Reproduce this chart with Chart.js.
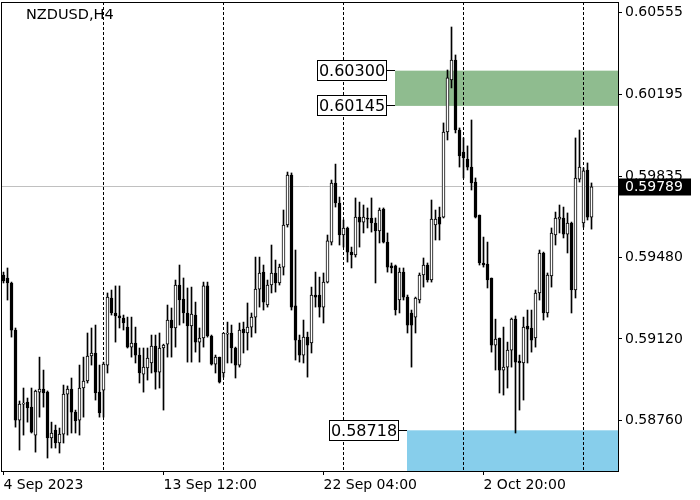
<!DOCTYPE html>
<html>
<head>
<meta charset="utf-8">
<script src="https://cdn.jsdelivr.net/npm/chart.js@4.4.0/dist/chart.umd.min.js"></script>
<style>
  html, body { margin: 0; padding: 0; background: #fff; }
  #wrap { width: 700px; height: 500px; }
</style>
</head>
<body>
<div id="wrap"><canvas id="chart" width="700" height="500"></canvas></div>
<script>
const symbolTitle = 'NZDUSD,H4';

// H4 candles, oldest first
const opens = [
  0.59401, 0.59388, 0.59366, 0.59159, 0.58763, 0.58833, 0.58842, 0.58820, 0.58697, 0.58886,
  0.58899, 0.58886, 0.58684, 0.58719, 0.58662, 0.58701, 0.58877, 0.58899, 0.58798, 0.58763,
  0.58904, 0.58935, 0.59045, 0.59058, 0.58886, 0.58895, 0.59005, 0.59300, 0.59234, 0.59221,
  0.59212, 0.59172, 0.59084, 0.59102, 0.59049, 0.58965, 0.58992, 0.59014, 0.59089, 0.58974,
  0.59080, 0.59097, 0.59203, 0.59168, 0.59357, 0.59295, 0.59234, 0.59177, 0.59225, 0.59106,
  0.59124, 0.59353, 0.59133, 0.59009, 0.59040, 0.58970, 0.59141, 0.59146, 0.59080, 0.59005,
  0.59163, 0.59146, 0.59172, 0.59216, 0.59339, 0.59414, 0.59269, 0.59357, 0.59410, 0.59366,
  0.59436, 0.59621, 0.59841, 0.59265, 0.59115, 0.59049, 0.59128, 0.59102, 0.59313, 0.59313,
  0.59260, 0.59370, 0.59546, 0.59806, 0.59718, 0.59577, 0.59608, 0.59502, 0.59489, 0.59656,
  0.59634, 0.59652, 0.59652, 0.59630, 0.59595, 0.59691, 0.59546, 0.59441, 0.59441, 0.59291,
  0.59414, 0.59304, 0.59234, 0.59216, 0.59291, 0.59401, 0.59445, 0.59379, 0.59621, 0.59656,
  0.59656, 0.60030, 0.60259, 0.60347, 0.60039, 0.59942, 0.59911, 0.59876, 0.59810, 0.59665,
  0.59454, 0.59449, 0.59388, 0.59093, 0.59124, 0.58983, 0.58996, 0.59071, 0.59207, 0.59023,
  0.59014, 0.59177, 0.59168, 0.59124, 0.59322, 0.59498, 0.59234, 0.59397, 0.59577, 0.59647,
  0.59652, 0.59581, 0.59630, 0.59335, 0.59823, 0.59630, 0.59863, 0.59656
];
const highs = [
  0.59414, 0.59432, 0.59370, 0.59168, 0.58847, 0.58904, 0.58860, 0.58904, 0.58895, 0.59040,
  0.58983, 0.58891, 0.58754, 0.58741, 0.58728, 0.58917, 0.58913, 0.58948, 0.58807, 0.59005,
  0.59040, 0.59146, 0.59168, 0.59181, 0.59005, 0.59018, 0.59322, 0.59335, 0.59353, 0.59353,
  0.59225, 0.59216, 0.59216, 0.59172, 0.59080, 0.59080, 0.59080, 0.59137, 0.59137, 0.59146,
  0.59097, 0.59269, 0.59256, 0.59379, 0.59445, 0.59388, 0.59344, 0.59348, 0.59282, 0.59168,
  0.59370, 0.59370, 0.59137, 0.59049, 0.59040, 0.59146, 0.59194, 0.59181, 0.59084, 0.59190,
  0.59194, 0.59278, 0.59234, 0.59480, 0.59480, 0.59445, 0.59379, 0.59533, 0.59467, 0.59449,
  0.59687, 0.59854, 0.59850, 0.59511, 0.59137, 0.59203, 0.59150, 0.59348, 0.59414, 0.59392,
  0.59410, 0.59577, 0.59819, 0.59889, 0.59744, 0.59643, 0.59612, 0.59524, 0.59740, 0.59722,
  0.59709, 0.59696, 0.59740, 0.59652, 0.59696, 0.59696, 0.59586, 0.59454, 0.59445, 0.59432,
  0.59432, 0.59313, 0.59247, 0.59304, 0.59410, 0.59476, 0.59454, 0.59731, 0.59687, 0.59700,
  0.60070, 0.60303, 0.60492, 0.60369, 0.60048, 0.60004, 0.59969, 0.60083, 0.59828, 0.59665,
  0.59568, 0.59546, 0.59388, 0.59207, 0.59124, 0.59172, 0.59106, 0.59212, 0.59221, 0.59049,
  0.59216, 0.59247, 0.59247, 0.59335, 0.59511, 0.59502, 0.59410, 0.59608, 0.59678, 0.59709,
  0.59700, 0.59674, 0.59634, 0.60004, 0.60039, 0.59872, 0.59894, 0.59806
];
const lows = [
  0.59366, 0.59291, 0.59128, 0.58732, 0.58631, 0.58697, 0.58754, 0.58706, 0.58622, 0.58776,
  0.58820, 0.58596, 0.58640, 0.58640, 0.58618, 0.58662, 0.58697, 0.58706, 0.58706, 0.58697,
  0.58776, 0.58926, 0.59005, 0.58851, 0.58776, 0.58776, 0.58970, 0.59225, 0.59106, 0.59168,
  0.59159, 0.59080, 0.59040, 0.59014, 0.58926, 0.58886, 0.58939, 0.58970, 0.58899, 0.58904,
  0.58807, 0.59040, 0.59040, 0.59084, 0.59181, 0.59190, 0.59018, 0.59018, 0.59062, 0.59018,
  0.59084, 0.59128, 0.59005, 0.58970, 0.58926, 0.58952, 0.59014, 0.59014, 0.58948, 0.58996,
  0.59058, 0.59071, 0.59128, 0.59146, 0.59260, 0.59247, 0.59260, 0.59322, 0.59326, 0.59357,
  0.59401, 0.59612, 0.59247, 0.59027, 0.59018, 0.59014, 0.58952, 0.59058, 0.59260, 0.59216,
  0.59190, 0.59366, 0.59533, 0.59700, 0.59533, 0.59524, 0.59458, 0.59432, 0.59480, 0.59524,
  0.59586, 0.59608, 0.59590, 0.59366, 0.59542, 0.59542, 0.59414, 0.59410, 0.59225, 0.59234,
  0.59291, 0.59146, 0.58996, 0.59146, 0.59278, 0.59348, 0.59370, 0.59370, 0.59555, 0.59555,
  0.59652, 0.59995, 0.60224, 0.60026, 0.59876, 0.59828, 0.59863, 0.59775, 0.59652, 0.59445,
  0.59436, 0.59344, 0.59062, 0.58983, 0.58882, 0.58873, 0.58904, 0.58996, 0.58706, 0.58807,
  0.58851, 0.59014, 0.59062, 0.59084, 0.59291, 0.59203, 0.59216, 0.59348, 0.59533, 0.59586,
  0.59564, 0.59498, 0.59234, 0.59300, 0.59810, 0.59612, 0.59643, 0.59603
];
const closes = [
  0.59375, 0.59366, 0.59159, 0.58763, 0.58833, 0.58838, 0.58816, 0.58710, 0.58891, 0.58899,
  0.58882, 0.58684, 0.58706, 0.58662, 0.58701, 0.58877, 0.58899, 0.58798, 0.58759, 0.58904,
  0.58935, 0.59045, 0.59058, 0.58882, 0.58794, 0.59009, 0.59304, 0.59234, 0.59221, 0.59212,
  0.59190, 0.59084, 0.59102, 0.59049, 0.58970, 0.58996, 0.59036, 0.59089, 0.58974, 0.59080,
  0.59093, 0.59203, 0.59168, 0.59357, 0.59291, 0.59234, 0.59177, 0.59229, 0.59106, 0.59124,
  0.59353, 0.59133, 0.59009, 0.59040, 0.58930, 0.59146, 0.59146, 0.59080, 0.59005, 0.59159,
  0.59146, 0.59172, 0.59216, 0.59339, 0.59410, 0.59282, 0.59357, 0.59410, 0.59366, 0.59436,
  0.59621, 0.59841, 0.59260, 0.59115, 0.59049, 0.59128, 0.59093, 0.59313, 0.59304, 0.59260,
  0.59370, 0.59551, 0.59806, 0.59718, 0.59577, 0.59608, 0.59502, 0.59489, 0.59656, 0.59634,
  0.59656, 0.59647, 0.59630, 0.59595, 0.59687, 0.59546, 0.59436, 0.59432, 0.59247, 0.59414,
  0.59304, 0.59181, 0.59181, 0.59300, 0.59401, 0.59445, 0.59379, 0.59647, 0.59647, 0.59625,
  0.60030, 0.60268, 0.60347, 0.60039, 0.59925, 0.59916, 0.59876, 0.59806, 0.59656, 0.59454,
  0.59445, 0.59379, 0.59093, 0.59119, 0.58983, 0.58996, 0.59071, 0.59207, 0.59018, 0.59014,
  0.59172, 0.59163, 0.59115, 0.59322, 0.59498, 0.59234, 0.59401, 0.59586, 0.59652, 0.59656,
  0.59581, 0.59630, 0.59335, 0.59828, 0.59876, 0.59859, 0.59656, 0.59789
];

const timeTickBars = [0, 40, 80, 120];
const timeTickLabels = ['4 Sep 2023', '13 Sep 12:00', '22 Sep 04:00', '2 Oct 20:00'];
const weekStartBars = [25, 55, 85, 115, 145];
const priceTicks = [0.60555, 0.60195, 0.59835, 0.59480, 0.59120, 0.58760];
const priceRange = [0.58539, 0.60602];
const barRange = [-0.625, 153.625];

const resistanceZone = [0.60145, 0.60300];
const resistanceStartBar = 98;
const supportZone = [0.58500, 0.58718];
const supportStartBar = 101;
const bidPrice = 0.59789;

const FONT = 'DejaVu Sans';
Chart.defaults.font.family = FONT;
Chart.defaults.color = '#000';

const isBull = i => closes[i] >= opens[i];

const wickData = lows.map((l, i) => ({ x: i, y: [l, highs[i]] }));
const bodyData = opens.map((o, i) => ({ x: i, y: [o, closes[i]] }));

const overlay = {
  id: 'overlay',
  beforeDatasetsDraw(chart) {
    const { ctx, chartArea: a, scales: { x, y } } = chart;
    ctx.save();
    ctx.beginPath();
    ctx.rect(a.left, a.top, a.right - a.left, a.bottom - a.top);
    ctx.clip();

    const zone = (range, startBar, color) => {
      const x0 = Math.floor(x.getPixelForValue(startBar));
      const y0 = y.getPixelForValue(range[1]);
      const y1 = y.getPixelForValue(range[0]);
      ctx.fillStyle = color;
      ctx.fillRect(x0, y0, a.right - x0, y1 - y0);
    };
    zone(resistanceZone, resistanceStartBar, '#8fbc8f');
    zone(supportZone, supportStartBar, '#87ceeb');

    // bid line
    const by = Math.floor(y.getPixelForValue(bidPrice)) + 0.5;
    ctx.strokeStyle = '#c0c0c0';
    ctx.lineWidth = 1;
    ctx.beginPath();
    ctx.moveTo(a.left, by);
    ctx.lineTo(a.right, by);
    ctx.stroke();

    // week separators
    ctx.strokeStyle = '#000';
    ctx.setLineDash([3, 2]);
    weekStartBars.forEach(b => {
      const px = Math.floor(x.getPixelForValue(b)) + 0.5;
      ctx.beginPath();
      ctx.moveTo(px, a.top);
      ctx.lineTo(px, a.bottom);
      ctx.stroke();
    });
    ctx.restore();
  },
  afterDraw(chart) {
    const { ctx, chartArea: a, scales: { x, y } } = chart;
    ctx.save();

    // frame
    ctx.strokeStyle = '#000';
    ctx.lineWidth = 1;
    ctx.strokeRect(a.left + 0.5, a.top + 0.5, a.right - a.left, a.bottom - a.top);

    // title
    ctx.fillStyle = '#000';
    ctx.font = '14.5px "' + FONT + '"';
    ctx.textBaseline = 'top';
    ctx.textAlign = 'left';
    ctx.fillText(symbolTitle, 26, 8);

    // zone price labels
    const levelLabel = (price, startBar) => {
      const ly = Math.floor(y.getPixelForValue(price)) + 0.5;
      const zx = Math.floor(x.getPixelForValue(startBar));
      const right = zx - 8.5;
      const left = right - 69;
      ctx.fillStyle = '#fff';
      ctx.fillRect(left, ly - 10, 69, 20);
      ctx.strokeStyle = '#000';
      ctx.strokeRect(left, ly - 10, 69, 20);
      ctx.beginPath();
      ctx.moveTo(right, ly);
      ctx.lineTo(zx, ly);
      ctx.stroke();
      ctx.fillStyle = '#000';
      ctx.font = '16px "' + FONT + '"';
      ctx.textAlign = 'center';
      ctx.textBaseline = 'middle';
      ctx.fillText(price.toFixed(5), left + 34.5, ly + 1);
    };
    levelLabel(resistanceZone[1], resistanceStartBar);
    levelLabel(resistanceZone[0], resistanceStartBar);
    levelLabel(supportZone[1], supportStartBar);

    // bid label on the price axis
    const by = Math.floor(y.getPixelForValue(bidPrice)) + 0.5;
    ctx.fillStyle = '#000';
    ctx.fillRect(a.right + 1, by - 8, 72, 17);
    ctx.fillStyle = '#fff';
    ctx.font = '14px "' + FONT + '"';
    ctx.textAlign = 'left';
    ctx.textBaseline = 'middle';
    ctx.fillText(bidPrice.toFixed(5), a.right + 7, by + 1);
    ctx.restore();
  }
};

new Chart(document.getElementById('chart'), {
  type: 'bar',
  data: {
    datasets: [
      {
        label: 'body',
        data: bodyData,
        order: 0,
        grouped: false,
        barThickness: 3,
        minBarLength: 1,
        borderWidth: 1,
        borderSkipped: false,
        borderColor: '#000',
        backgroundColor: c => (isBull(c.dataIndex) ? '#fff' : '#000')
      },
      {
        label: 'wick',
        data: wickData,
        order: 1,
        grouped: false,
        barThickness: 1,
        borderWidth: 0,
        backgroundColor: '#000'
      }
    ]
  },
  options: {
    responsive: false,
    animation: false,
    events: [],
    layout: { padding: { left: 1, top: 2, right: 0, bottom: 0 } },
    plugins: { legend: { display: false }, tooltip: { enabled: false } },
    scales: {
      x: {
        type: 'linear',
        min: barRange[0],
        max: barRange[1],
        offset: false,
        afterBuildTicks: axis => { axis.ticks = timeTickBars.map(v => ({ value: v })); },
        afterFit: axis => { axis.height = 29; axis.paddingLeft = 0; axis.paddingRight = 0; },
        grid: { drawOnChartArea: false, offset: false, tickLength: 4, color: '#000' },
        border: { display: false },
        ticks: {
          autoSkip: false,
          maxRotation: 0,
          align: 'start',
          padding: 2,
          font: { size: 14 },
          callback: v => timeTickLabels[timeTickBars.indexOf(v)]
        }
      },
      y: {
        type: 'linear',
        position: 'right',
        min: priceRange[0],
        max: priceRange[1],
        afterBuildTicks: axis => { axis.ticks = priceTicks.map(v => ({ value: v })); },
        afterFit: axis => { axis.width = 82; axis.paddingTop = 0; axis.paddingBottom = 0; },
        grid: { drawOnChartArea: false, tickLength: 4, color: '#000' },
        border: { display: false },
        ticks: {
          padding: 3,
          font: { size: 14 },
          callback: v => v.toFixed(5)
        }
      }
    }
  },
  plugins: [overlay]
});
</script>
</body>
</html>
